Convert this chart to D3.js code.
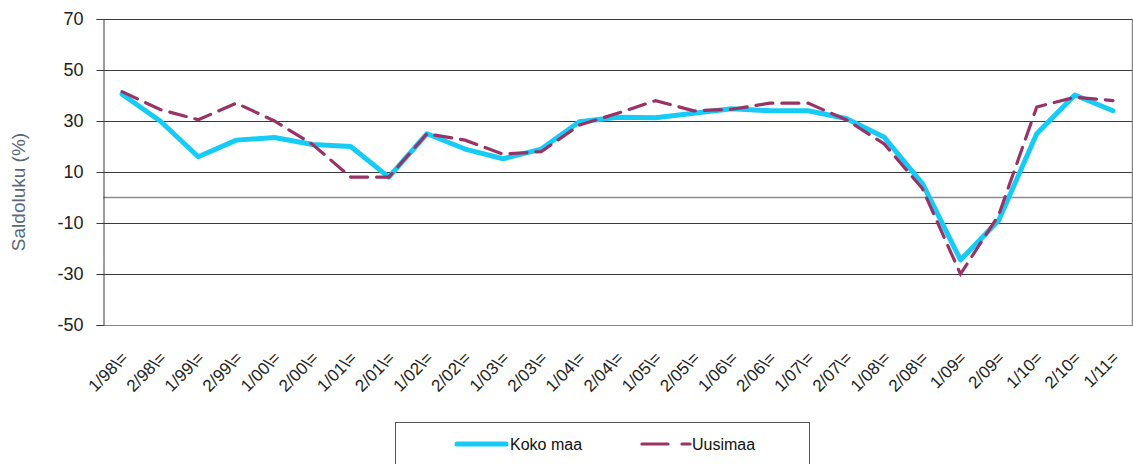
<!DOCTYPE html>
<html><head><meta charset="utf-8">
<script src="https://cdn.jsdelivr.net/npm/d3@7"></script>
<style>body{margin:0;background:#fff;} text{font-family:"Liberation Sans",Arial,sans-serif;}</style>
</head><body><svg id="c" width="1133" height="464"></svg>
<script>
const categories = ["1/98\\=","2/98\\=","1/99\\=","2/99\\=","1/00\\=","2/00\\=","1/01\\=","2/01\\=","1/02\\=","2/02\\=","1/03\\=","2/03\\=","1/04\\=","2/04\\=","1/05\\=","2/05\\=","1/06\\=","2/06\\=","1/07\\=","2/07\\=","1/08\\=","2/08\\=","1/09=","2/09=","1/10=","2/10=","1/11="];
const kokoMaa = [40.5,30,16,22.5,23.5,20.8,20,8,25,19,15.2,19,29.7,31.5,31.3,33,34.8,34,34,31,23.6,5.5,-24.5,-9,25,40.2,34];
const uusimaa = [41.5,34.5,30.5,37,30,20.8,8,8,25,22.5,17,18,28.4,33,38,34,34.6,37,37,30.5,21,3.5,-30,-7,35.5,39.3,38];
const yTicks = [70,50,30,10,-10,-30,-50];
const seriesNames = ["Koko maa","Uusimaa"];

const svg = d3.select("#c");
const L=103, R=1132, T=19, B=325;
const x = d3.scaleBand().domain(categories).range([L,R]);
const y = d3.scaleLinear().domain([-50,70]).range([B,T]);

// gridlines
svg.append("g").selectAll("line").data(yTicks).join("line")
  .attr("x1",L).attr("x2",R).attr("y1",d=>Math.round(y(d))+0.5).attr("y2",d=>Math.round(y(d))+0.5)
  .attr("stroke",d=>d===-50?"#888":"#3a3a3a").attr("stroke-width",1);
// zero line
svg.append("line").attr("x1",L).attr("x2",R).attr("y1",Math.round(y(0))+0.5).attr("y2",Math.round(y(0))+0.5)
  .attr("stroke","#8c8c8c").attr("stroke-width",1.5);
// right border
svg.append("line").attr("x1",R+0.5).attr("x2",R+0.5).attr("y1",T).attr("y2",B+1).attr("stroke","#888").attr("stroke-width",1.5);

// y axis
const ya = d3.axisLeft(y).tickValues(yTicks).tickSize(7).tickPadding(13).tickFormat(d=>d);
const yg = svg.append("g").attr("transform",`translate(${L+0.5},0)`).call(ya);
yg.select(".domain").attr("stroke","#3a3a3a");
yg.selectAll(".tick line").attr("stroke","#3a3a3a");
yg.selectAll("text").attr("font-size","18px").attr("fill","#222");

// x labels
svg.append("g").selectAll("text").data(categories).join("text")
  .attr("transform",d=>`translate(${x(d)+x.bandwidth()/2+7},${B+34}) rotate(-45)`)
  .attr("text-anchor","end").attr("font-size","17px").attr("fill","#222").text(d=>d);

// y title
svg.append("text").attr("transform",`translate(25,192) rotate(-90)`)
  .attr("text-anchor","middle").attr("font-size","19px").attr("fill","#5b6878").text("Saldoluku (%)");

const line = d3.line().x((d,i)=>x(categories[i])+x.bandwidth()/2).y(d=>y(d));
svg.append("path").datum(kokoMaa).attr("d",line).attr("fill","none")
  .attr("stroke","#17cbf7").attr("stroke-width",5).attr("stroke-linejoin","round").attr("stroke-linecap","round");
svg.append("path").datum(uusimaa).attr("d",line).attr("fill","none")
  .attr("stroke","#993366").attr("stroke-width",3.2).attr("stroke-dasharray","17,9").attr("stroke-linecap","round");

// legend
const lg = svg.append("g");
lg.append("rect").attr("x",395.5).attr("y",422.5).attr("width",414).attr("height",60).attr("fill","#fff").attr("stroke","#555");
lg.append("line").attr("x1",457).attr("x2",506).attr("y1",444).attr("y2",444).attr("stroke","#17cbf7").attr("stroke-width",5).attr("stroke-linecap","round");
lg.append("text").attr("x",510).attr("y",450).attr("font-size","16px").attr("fill","#111").text(seriesNames[0]);
lg.append("line").attr("x1",642).attr("x2",668).attr("y1",444).attr("y2",444).attr("stroke","#993366").attr("stroke-width",3.2).attr("stroke-linecap","round");
lg.append("line").attr("x1",682).attr("x2",690).attr("y1",444).attr("y2",444).attr("stroke","#993366").attr("stroke-width",3.2).attr("stroke-linecap","round");
lg.append("text").attr("x",692).attr("y",450).attr("font-size","16px").attr("fill","#111").text(seriesNames[1]);
</script></body></html>
